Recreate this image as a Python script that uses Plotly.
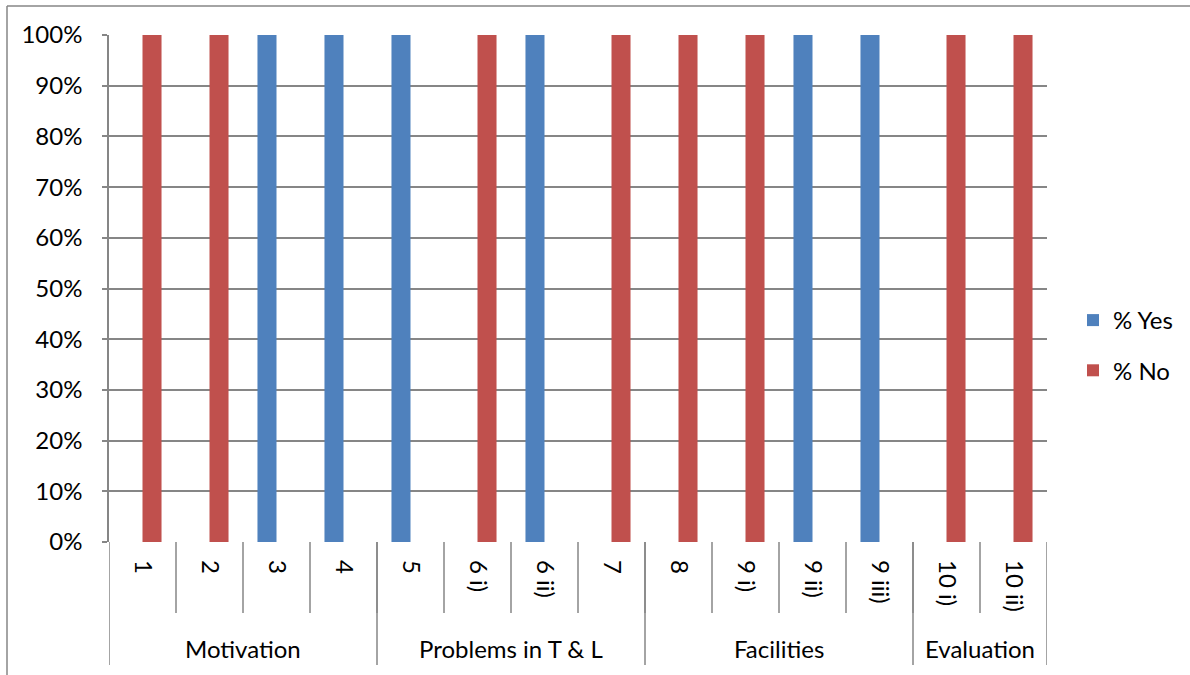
import plotly.graph_objects as go

# Survey items, grouped by theme
items = ["1", "2", "3", "4", "5", "6 i)", "6 ii)", "7",
         "8", "9 i)", "9 ii)", "9 iii)", "10 i)", "10 ii)"]
groups = ["Motivation", "Problems in T & L", "Facilities", "Evaluation"]
group_sizes = [4, 4, 4, 2]

pct_yes = [0, 0, 100, 100, 100, 0, 100, 0, 0, 0, 100, 100, 0, 0]
pct_no = [100, 100, 0, 0, 0, 100, 0, 100, 100, 100, 0, 0, 100, 100]

BLUE = "#4F81BD"
RED = "#C0504D"
GRID = "#868686"
FONT = "Lato, Carlito, Calibri, sans-serif"
FS = 24

x = list(range(len(items)))

fig = go.Figure()
fig.add_trace(go.Bar(x=x, y=pct_yes, name="% Yes", marker=dict(color=BLUE, line=dict(width=0)),
                     legendgroup="yes"))
fig.add_trace(go.Bar(x=x, y=pct_no, name="% No", marker=dict(color=RED, line=dict(width=0)),
                     legendgroup="no"))

# plot-area geometry in pixels (used to place axis furniture in paper units)
W, H = 1190, 675
L, R, T, B = 109, 143, 35, 133
pw, ph = W - L - R, H - T - B


def py(pix):
    """pixel row -> paper y"""
    return (H - B - pix) / ph


def px(pix):
    """pixel column -> paper x"""
    return (pix - L) / pw


shapes = []
# item dividers below the axis
for i in range(1, len(items)):
    shapes.append(dict(type="line", xref="x", yref="paper", x0=i - 0.5, x1=i - 0.5,
                       y0=0, y1=py(613), line=dict(color=GRID, width=1.5)))
# group dividers, running through both label rows
bounds = [-0.5]
for n in group_sizes:
    bounds.append(bounds[-1] + n)
for b in bounds:
    shapes.append(dict(type="line", xref="x", yref="paper", x0=b, x1=b,
                       y0=0, y1=py(665), line=dict(color=GRID, width=1.5)))
# chart frame (left and top edges)
shapes.append(dict(type="line", xref="paper", yref="paper", x0=px(7), x1=px(7),
                   y0=py(6), y1=py(690), line=dict(color=GRID, width=1.5)))
shapes.append(dict(type="line", xref="paper", yref="paper", x0=px(7), x1=px(1200),
                   y0=py(6), y1=py(6), line=dict(color=GRID, width=1.5)))

annotations = []
start = -0.5
for g, n in zip(groups, group_sizes):
    annotations.append(dict(x=start + n / 2, y=py(648), xref="x", yref="paper", text=g,
                            showarrow=False, font=dict(family=FONT, size=FS, color="black"),
                            xanchor="center", yanchor="middle"))
    start += n

fig.update_layout(
    width=W, height=H,
    margin=dict(l=L, r=R, t=T, b=B, autoexpand=False),
    paper_bgcolor="white", plot_bgcolor="white",
    barmode="group", bargap=0.432, bargroupgap=0,
    font=dict(family=FONT, size=FS, color="black"),
    shapes=shapes, annotations=annotations,
    legend=dict(x=px(1073), y=py(298), xanchor="left", yanchor="top",
                traceorder="grouped", tracegroupgap=16,
                font=dict(family=FONT, size=FS, color="black"), bgcolor="rgba(0,0,0,0)"),
    showlegend=True,
)
fig.update_xaxes(range=[-0.5, len(items) - 0.5], tickmode="array", tickvals=x, ticktext=items,
                 tickangle=90, showgrid=False, zeroline=False, showline=False, ticks="",
                 ticklabelstandoff=17, tickfont=dict(family=FONT, size=FS, color="black"))
fig.update_yaxes(range=[0, 100], dtick=10, ticksuffix="%", showgrid=True, gridcolor=GRID,
                 gridwidth=1.5, zeroline=False, showline=True, linecolor=GRID, linewidth=1.5,
                 ticks="outside", ticklen=5, tickcolor=GRID, tickwidth=1.5,
                 ticklabelstandoff=15, tickfont=dict(family=FONT, size=FS, color="black"))

fig.write_html("out.html")
